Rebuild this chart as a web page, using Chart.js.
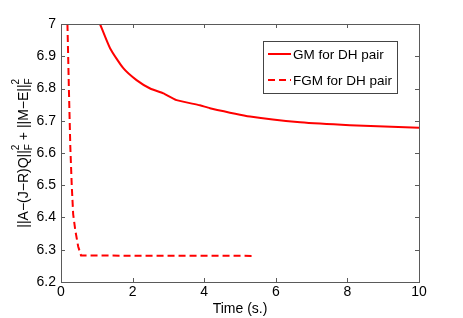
<!DOCTYPE html>
<html>
<head>
<meta charset="utf-8">
<script src="https://cdn.jsdelivr.net/npm/chart.js@4.4.0/dist/chart.umd.min.js"></script>
<style>
  html, body { margin: 0; padding: 0; background: #fff; }
  #wrap { width: 463px; height: 318px; }
</style>
</head>
<body>
<div id="wrap"><canvas id="myChart"></canvas></div>
<script>
// data
var gmTime = [1.09, 1.37, 1.74, 2.11, 2.49, 2.86, 3.23, 3.88, 4.16, 5.28, 6.68, 8.07, 10];
var gmValue = [7.0, 6.925, 6.863, 6.826, 6.80, 6.785, 6.764, 6.748, 6.739, 6.713, 6.695, 6.686, 6.678];
var fgmTime = [0.18, 0.22, 0.26, 0.30, 0.34, 0.40, 0.48, 0.56, 5.34];
var fgmValue = [7.0, 6.8, 6.62, 6.5, 6.41, 6.36, 6.31, 6.282, 6.281];
var seriesNames = ['GM for DH pair', 'FGM for DH pair'];
var xTicks = [0, 2, 4, 6, 8, 10];
var yTicks = [6.2, 6.3, 6.4, 6.5, 6.6, 6.7, 6.8, 6.9, 7];

var FONT = '"Liberation Sans", Arial, Helvetica, sans-serif';
var AXIS = '#5a5a5a';

function pairs(xs, ys) {
    return xs.map(function (x, i) { return { x: x, y: ys[i] }; });
}

// box, inward ticks, legend and y title
var matlabLook = {
    id: 'matlabLook',
    afterDatasetsDraw: function (chart) {
        var ctx = chart.ctx;
        var a = chart.chartArea;
        var xs = chart.scales.x, ys = chart.scales.y;
        ctx.save();
        ctx.strokeStyle = AXIS;
        ctx.lineWidth = 1;
        ctx.beginPath();
        xTicks.forEach(function (t) {
            var px = Math.round(xs.getPixelForValue(t)) + 0.5;
            ctx.moveTo(px, a.bottom); ctx.lineTo(px, a.bottom - 4);
            ctx.moveTo(px, a.top); ctx.lineTo(px, a.top + 4);
        });
        yTicks.forEach(function (t) {
            var py = Math.round(ys.getPixelForValue(t)) + 0.5;
            ctx.moveTo(a.left, py); ctx.lineTo(a.left + 4, py);
            ctx.moveTo(a.right, py); ctx.lineTo(a.right - 4, py);
        });
        ctx.stroke();
        ctx.strokeRect(Math.round(a.left) + 0.5, Math.round(a.top) + 0.5,
            Math.round(a.right - a.left), Math.round(a.bottom - a.top));

        // legend
        var lx = 263, ly = 41, lw = 134, lh = 52;
        ctx.fillStyle = '#fff';
        ctx.fillRect(lx, ly, lw, lh);
        ctx.strokeStyle = '#444';
        ctx.strokeRect(lx + 0.5, ly + 0.5, lw, lh);
        ctx.font = '13.5px ' + FONT;
        ctx.textBaseline = 'middle';
        chart.data.datasets.forEach(function (ds, i) {
            var yy = ly + 13 + i * 26;
            ctx.strokeStyle = ds.borderColor;
            ctx.lineWidth = 2;
            ctx.setLineDash(ds.borderDash || []);
            ctx.beginPath();
            ctx.moveTo(lx + 5, yy); ctx.lineTo(lx + 28, yy);
            ctx.stroke();
            ctx.setLineDash([]);
            ctx.fillStyle = '#000';
            ctx.textAlign = 'left';
            ctx.fillText(ds.label, lx + 30, yy + 1);
        });

        // y axis title with sub/superscripts
        var parts = [
            ['||A\u2212(J\u2212R)Q||', 0, 14],
            ['F', 'sub', 10],
            ['2', 'sup', 10],
            [' + ||M\u2212E||', 0, 14],
            ['F', 'sub', 10],
            ['2', 'sup', 10]
        ];
        var total = 0, widths = [];
        parts.forEach(function (p, i) {
            ctx.font = p[2] + 'px ' + FONT;
            var w = ctx.measureText(p[0]).width;
            widths.push(w);
            if (p[1] === 'sup') return;
            total += w;
        });
        ctx.translate(28, (a.top + a.bottom) / 2);
        ctx.rotate(-Math.PI / 2);
        ctx.fillStyle = '#000';
        ctx.textAlign = 'left';
        ctx.textBaseline = 'alphabetic';
        var cx = -total / 2, subStart = 0;
        parts.forEach(function (p, i) {
            ctx.font = p[2] + 'px ' + FONT;
            if (p[1] === 'sub') {
                ctx.fillText(p[0], cx, 4);
                subStart = cx;
                cx += widths[i];
            } else if (p[1] === 'sup') {
                ctx.fillText(p[0], subStart, -9);
            } else {
                ctx.fillText(p[0], cx, 0);
                cx += widths[i];
            }
        });
        ctx.restore();
    }
};

var config = {
    type: 'line',
    data: {
        datasets: [{
            label: seriesNames[0],
            data: pairs(gmTime, gmValue),
            borderColor: '#ff0000',
            borderWidth: 2,
            pointRadius: 0,
            tension: 0.2,
            fill: false
        }, {
            label: seriesNames[1],
            data: pairs(fgmTime, fgmValue),
            borderColor: '#ff0000',
            borderWidth: 2,
            borderDash: [7, 4],
            pointRadius: 0,
            tension: 0,
            fill: false
        }]
    },
    options: {
        responsive: true,
        maintainAspectRatio: false,
        animation: false,
        layout: { padding: { left: 0, right: 44, top: 24, bottom: 0 } },
        plugins: { legend: { display: false }, tooltip: { enabled: false } },
        scales: {
            x: {
                type: 'linear',
                min: 0, max: 10,
                afterFit: function (s) { s.height = 36; },
                afterBuildTicks: function (s) { s.ticks = xTicks.map(function (v) { return { value: v }; }); },
                grid: { display: false, drawTicks: false },
                border: { display: false },
                ticks: { color: '#000', padding: 2, font: { family: FONT, size: 14 }, maxRotation: 0 },
                title: { display: true, text: 'Time (s.)', color: '#000', padding: 0, font: { family: FONT, size: 14 } }
            },
            y: {
                type: 'linear',
                min: 6.2, max: 7,
                afterFit: function (s) { s.width = 61; },
                afterBuildTicks: function (s) { s.ticks = yTicks.map(function (v) { return { value: v }; }); },
                grid: { display: false, drawTicks: false },
                border: { display: false },
                ticks: {
                    color: '#000', padding: 5, font: { family: FONT, size: 14 },
                    callback: function (v) { return String(Math.round(v * 10) / 10); }
                }
            }
        }
    },
    plugins: [matlabLook]
};

var ctx = document.getElementById('myChart').getContext('2d');
window.myChart = new Chart(ctx, config);
</script>
</body>
</html>
